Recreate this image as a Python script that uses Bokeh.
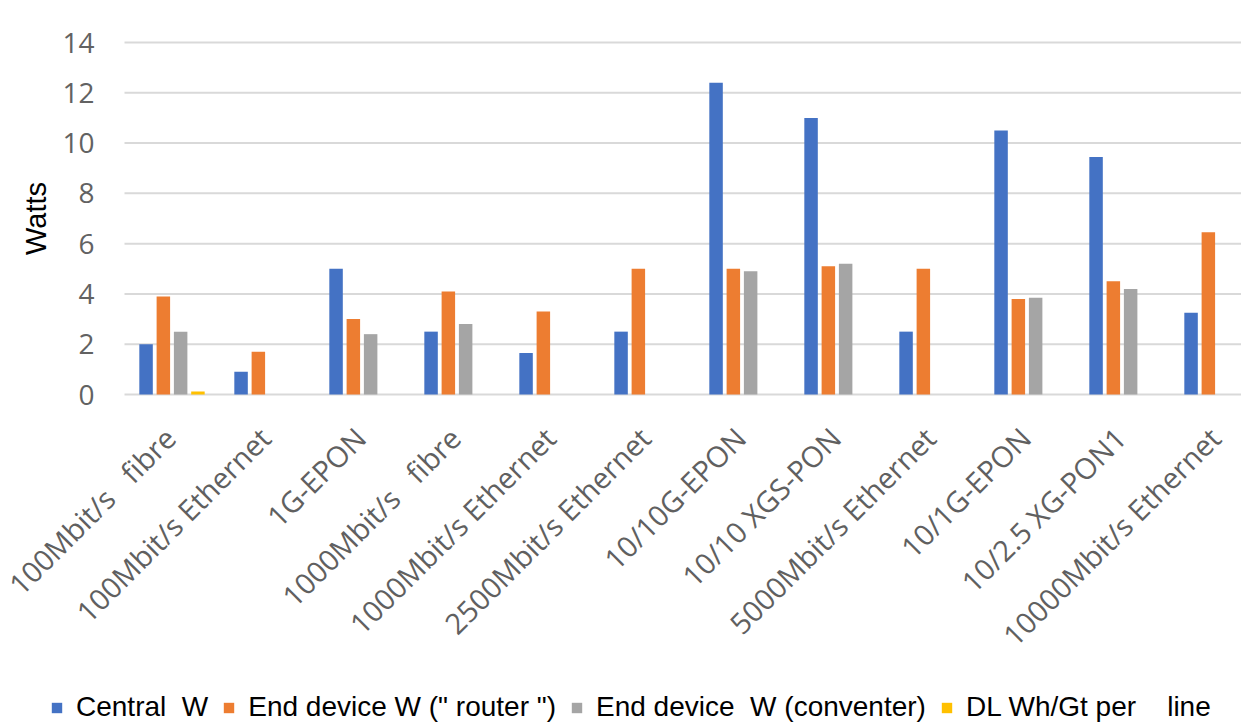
import math

from bokeh.core.properties import value
from bokeh.embed import file_html
from bokeh.models import ColumnDataSource, Legend, LegendItem, Range1d
from bokeh.plotting import figure
from bokeh.resources import INLINE

# Power draw per access technology (Watts)
technologies = [
    "100Mbit/s fibre", "100Mbit/s Ethernet", "1G-EPON", "1000Mbit/s fibre",
    "1000Mbit/s Ethernet", "2500Mbit/s Ethernet", "10/10G-EPON", "10/10 XGS-PON",
    "5000Mbit/s Ethernet", "10/1G-EPON", "10/2.5 XG-PON1", "10000Mbit/s Ethernet",
]
central_w = [2.0, 0.9, 5.0, 2.5, 1.65, 2.5, 12.4, 11.0, 2.5, 10.5, 9.45, 3.25]
end_device_router_w = [3.9, 1.7, 3.0, 4.1, 3.3, 5.0, 5.0, 5.1, 5.0, 3.8, 4.5, 6.45]
end_device_converter_w = [2.5, 0, 2.4, 2.8, 0, 0, 4.9, 5.2, 0, 3.85, 4.2, 0]
dl_wh_per_line = [0.12, 0, 0, 0, 0, 0, 0, 0, 0, 0, 0, 0]

series_names = [
    "Central\u00a0\u00a0W",
    'End device W ("\u00a0router\u00a0")',
    "End device\u00a0\u00a0W (conventer)",
    "DL Wh/Gt per\u00a0\u00a0\u00a0\u00a0line",
]
series_values = [central_w, end_device_router_w, end_device_converter_w, dl_wh_per_line]
series_colors = ["#4472C4", "#ED7D31", "#A5A5A5", "#FFC000"]

y_ticks = [0, 2, 4, 6, 8, 10, 12, 14]
y_title = "Watts"

# labels whose last word is set a little further apart
split_word = "fibre"

W, H = 1241, 723
PLOT_LEFT, PLOT_BOTTOM, PLOT_TOP = 124, 394, 42   # pixel edges of the value area
PX_PER_GROUP = 95.0
PX_PER_UNIT = (PLOT_BOTTOM - PLOT_TOP) / max(y_ticks)
BAR_STEP = 0.182
BAR_WIDTH = 0.142

x_end = (W - PLOT_LEFT) / PX_PER_GROUP
p = figure(
    width=W, height=H,
    x_range=Range1d(-PLOT_LEFT / PX_PER_GROUP, x_end),
    y_range=Range1d(-(H - PLOT_BOTTOM) / PX_PER_UNIT, PLOT_BOTTOM / PX_PER_UNIT),
    x_axis_location=None, y_axis_location=None,
    toolbar_location=None, output_backend="svg",
    min_border=0,
)
p.outline_line_color = None
p.background_fill_color = "white"
p.border_fill_color = "white"
p.xgrid.grid_line_color = None
p.ygrid.grid_line_color = None

# horizontal gridlines across the category area
p.segment(x0=[0] * len(y_ticks), x1=[x_end] * len(y_ticks), y0=y_ticks, y1=y_ticks,
          line_color="#D9D9D9", line_width=2)

# bars, one column per series inside each group
items = []
centers = [i + 0.5 for i in range(len(technologies))]
for k, (name, vals, col) in enumerate(zip(series_names, series_values, series_colors)):
    off = (k - 1.5) * BAR_STEP
    src = ColumnDataSource(dict(x=[c + off for c in centers], top=vals))
    r = p.vbar(x="x", top="top", bottom=0, width=BAR_WIDTH, source=src,
               fill_color=col, line_color=None)
    items.append(LegendItem(label=name, renderers=[r]))

# value labels and title of the vertical scale
p.text(x=[0] * len(y_ticks), y=y_ticks, text=[str(v) for v in y_ticks],
       x_offset=-30, text_align="right", text_baseline="middle",
       text_font=value("Open Sans"), text_font_size="28px", text_color="#626262")
p.text(x=[0], y=[(y_ticks[0] + y_ticks[-1]) / 2], text=[y_title],
       x_offset=-89, angle=math.pi / 2, text_align="center", text_baseline="middle",
       text_font=value("Liberation Sans"), text_font_size="29px", text_color="black")

# slanted category labels under each group
shown = []
for t in technologies:
    if t.endswith(" " + split_word):
        shown.append(t[: -len(split_word)].rstrip() + "\u00a0\u00a0\u00a0" + split_word)
    else:
        shown.append(t)
p.text(x=centers, y=[0] * len(centers), text=shown,
       x_offset=-2, y_offset=38, angle=math.pi / 4,
       text_align="right", text_baseline="middle",
       text_font=value("Open Sans"), text_font_size="29px", text_color="#606060")

legend = Legend(items=items, orientation="horizontal", location=(50, 0))
legend.label_text_font = "Liberation Sans"
legend.label_text_font_size = "28px"
legend.label_text_color = "black"
legend.glyph_width = 13
legend.glyph_height = 13
legend.spacing = 14
legend.label_standoff = 13
legend.border_line_color = None
legend.background_fill_alpha = 0
legend.margin = 0
legend.padding = 0
p.add_layout(legend, "center")

open("out.html", "w").write(file_html(p, INLINE))
